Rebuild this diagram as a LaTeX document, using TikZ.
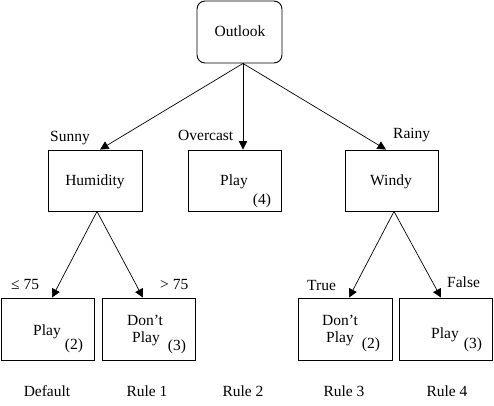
\documentclass[tikz,border=0pt]{standalone}
\usepackage{fontspec}
\setmainfont{Liberation Serif}
\usetikzlibrary{arrows.meta}
\begin{document}
\begin{tikzpicture}[x=1pt,y=-1pt,
  box/.style={draw, line width=0.9pt, rectangle, inner sep=0pt},
  txt/.style={inner sep=0pt, anchor=base, font=\fontsize{15.5}{18}\selectfont},
  lbl/.style={inner sep=0pt, anchor=base west, font=\fontsize{15.5}{18}\selectfont},
  conn/.style={line width=0.7pt, -{Triangle[length=8.5pt,width=8.5pt]}}]
\useasboundingbox[fill=white] (0,0) rectangle (494,405);
% boxes
\node[box, rounded corners=8pt, minimum width=85pt, minimum height=62pt] (outlook) at (239.5,32) {};
\node[box, minimum width=94pt, minimum height=61pt] (hum) at (95,180.5) {};
\node[box, minimum width=93pt, minimum height=61pt] (play4) at (234.5,180.5) {};
\node[box, minimum width=93pt, minimum height=61pt] (windy) at (391.5,180.5) {};
\node[box, minimum width=93pt, minimum height=62pt] (leafA) at (47.5,329) {};
\node[box, minimum width=93pt, minimum height=62pt] (leafB) at (148.5,329) {};
\node[box, minimum width=94pt, minimum height=62pt] (leafC) at (345,329) {};
\node[box, minimum width=93pt, minimum height=62pt] (leafD) at (445.5,329) {};
% connectors
\draw[conn] ([xshift=3.5pt]outlook.south) -- ([xshift=5pt]hum.north);
\draw[conn] ([xshift=3.5pt]outlook.south) -- ([xshift=8.5pt]play4.north);
\draw[conn] ([xshift=3.5pt]outlook.south) -- ([xshift=-5.5pt]windy.north);
\draw[conn] ([xshift=2pt]hum.south) -- ([xshift=4.5pt]leafA.north);
\draw[conn] ([xshift=2pt]hum.south) -- ([xshift=-5.5pt]leafB.north);
\draw[conn] ([xshift=2.5pt]windy.south) -- ([xshift=4pt]leafC.north);
\draw[conn] ([xshift=2.5pt]windy.south) -- ([xshift=-4.5pt]leafD.north);
% texts in boxes
\node[txt] (tOutlook) at (240,36) {Outlook};
\node[txt] (tHum) at (95,185) {Humidity};
\node[txt] (tPlay4) at (234,185) {Play};
\node[txt] (tFour) at (262,204) {(4)};
\node[txt] (tWindy) at (391,185) {Windy};
\node[txt] (tA1) at (47,335) {Play};
\node[txt] (tA2) at (74,349) {(2)};
\node[txt] (tB1) at (145,325) {Don’t};
\node[txt] (tB2) at (146,342) {Play};
\node[txt] (tB3) at (177,350) {(3)};
\node[txt] (tC1) at (340,325) {Don’t};
\node[txt] (tC2) at (340,342) {Play};
\node[txt] (tC3) at (371,348) {(2)};
\node[txt] (tD1) at (445,338) {Play};
\node[txt] (tD2) at (473,348) {(3)};
% edge labels
\node[lbl] (lSunny) at (50,141) {Sunny};
\node[lbl] (lOver) at (178,140) {Overcast};
\node[lbl] (lRainy) at (393,138) {Rainy};
\node[lbl] (lLe) at (11,289) {≤ 75};
\node[lbl] (lGt) at (160,289) {> 75};
\node[lbl] (lTrue) at (307,290) {True};
\node[lbl] (lFalse) at (447,287) {False};
% rule labels
\node[txt] (rD) at (47,396) {Default};
\node[txt] (r1) at (147,396) {Rule 1};
\node[txt] (r2) at (243,396) {Rule 2};
\node[txt] (r3) at (344,396) {Rule 3};
\node[txt] (r4) at (447,396) {Rule 4};
\end{tikzpicture}
\end{document}
